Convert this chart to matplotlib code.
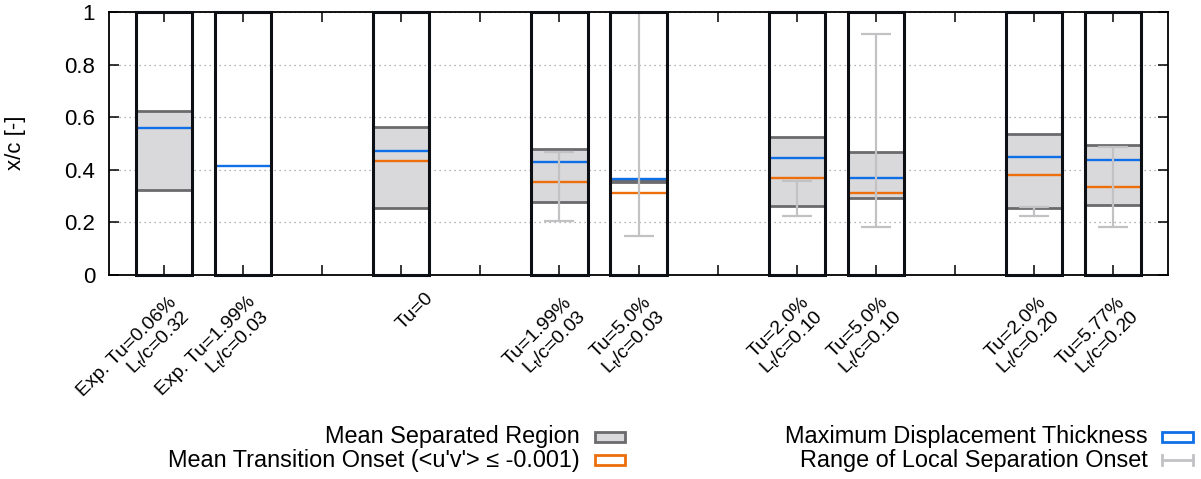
import numpy as np
import matplotlib
matplotlib.use('Agg')
import matplotlib.pyplot as plt
from matplotlib.patches import Rectangle

plt.rcParams['font.family'] = ['Liberation Sans', 'DejaVu Sans']
plt.rcParams['mathtext.fontset'] = 'custom'
plt.rcParams['mathtext.rm'] = 'Liberation Sans'
plt.rcParams['mathtext.default'] = 'regular'
plt.rcParams['font.size'] = 16

# cases, x slot of each case and its tick label
positions = [1, 2, 4, 6, 7, 9, 10, 12, 13]
labels = ['Exp. Tu=0.06%\nL$_t$/c=0.32', 'Exp. Tu=1.99%\nL$_t$/c=0.03', 'Tu=0',
          'Tu=1.99%\nL$_t$/c=0.03', 'Tu=5.0%\nL$_t$/c=0.03',
          'Tu=2.0%\nL$_t$/c=0.10', 'Tu=5.0%\nL$_t$/c=0.10',
          'Tu=2.0%\nL$_t$/c=0.20', 'Tu=5.77%\nL$_t$/c=0.20']
nan = np.nan
sep_start = [0.322, nan, 0.253, 0.279, 0.355, 0.264, 0.292, 0.255, 0.268]
sep_end = [0.625, nan, 0.561, 0.479, 0.362, 0.524, 0.467, 0.538, 0.495]
disp_max = [0.559, 0.415, 0.473, 0.428, 0.365, 0.444, 0.369, 0.448, 0.436]
trans_onset = [nan, nan, 0.434, 0.354, 0.311, 0.369, 0.311, 0.379, 0.336]
onset_min = [nan, nan, nan, 0.207, 0.150, 0.225, 0.184, 0.225, 0.184]
onset_max = [nan, nan, nan, 0.466, 1.000, 0.359, 0.915, 0.260, 0.486]

c_fill = '#d9d9db'
c_sep = '#6b6b6e'
c_blue = '#0f6fe6'
c_orange = '#ec6f0c'
c_err = '#c2c2c4'
c_box = '#0c1014'

W, H = 1201, 479
fig = plt.figure(figsize=(W/100, H/100), dpi=100)
ax = fig.add_axes([109/W, 1-275/H, (1168-109)/W, (275-12)/H])
bw = 0.71

for i, x in enumerate(positions):
    x0, x1 = x - bw/2, x + bw/2
    if not np.isnan(sep_start[i]):
        ax.fill_between([x0, x1], sep_start[i], sep_end[i], color=c_fill, lw=0, zorder=2)
        ax.hlines([sep_start[i], sep_end[i]], x0, x1, color=c_sep, lw=2.0, zorder=3)
    ax.hlines(disp_max[i], x0, x1, color=c_blue, lw=1.7, zorder=4)
    if not np.isnan(trans_onset[i]):
        ax.hlines(trans_onset[i], x0, x1, color=c_orange, lw=1.7, zorder=4)
    if not np.isnan(onset_min[i]):
        mid = (onset_min[i] + onset_max[i]) / 2
        ax.errorbar(x, mid, yerr=(onset_max[i] - onset_min[i]) / 2, fmt='none',
                    ecolor=c_err, elinewidth=1.6, capsize=10.5, capthick=1.6, zorder=4.5)
    ax.add_patch(Rectangle((x0, 0), bw, 1, fill=False, ec=c_box, lw=2.2, zorder=5, clip_on=False))

ax.set_xlim(0.3, 13.7)
ax.set_ylim(0, 1)
ax.set_xticks(range(1, 14))
ax.set_xticklabels([])
ax.set_yticks([0, 0.2, 0.4, 0.6, 0.8, 1])
ax.set_yticklabels(['0', '0.2', '0.4', '0.6', '0.8', '1'])
ax.tick_params(direction='in', top=True, right=True, length=7, width=1.1, pad=10)
ax.tick_params(axis='x', pad=4)
ax.yaxis.grid(True, linestyle=(0, (1, 3)), color='#9a9a9a', lw=0.9)
ax.set_axisbelow(True)
for sp in ax.spines.values():
    sp.set_linewidth(1.3)

for x, lab in zip(positions, labels):
    if '\n' in lab:
        off = (17, -32)
    else:
        off = (29, -20)
    ax.annotate(lab, xy=(x, 0), xycoords=('data', 'axes fraction'), xytext=off,
                textcoords='offset pixels', rotation=45, rotation_mode='anchor',
                ha='right', va='center', multialignment='right', linespacing=1.05,
                fontsize=14)

fig.text(15/W, 1-143/H, 'x/c [-]', rotation=90, ha='center', va='center', fontsize=16)

# key, drawn in pixel coordinates of the figure
lax = fig.add_axes([0, 0, 1, 1])
lax.set_xlim(0, W)
lax.set_ylim(H, 0)
lax.axis('off')
rows = [437, 460]
kfs = 16.9
lax.text(580, rows[0], 'Mean Separated Region', ha='right', va='center', fontsize=kfs)
lax.add_patch(Rectangle((595, rows[0]-5), 30, 10, fc=c_fill, ec=c_sep, lw=2))
lax.text(580, rows[1], "Mean Transition Onset (<u'v'> \u2264 -0.001)", ha='right', va='center', fontsize=kfs)
lax.add_patch(Rectangle((595, rows[1]-5), 30, 10, fc='white', ec=c_orange, lw=2))
lax.text(1148, rows[0], 'Maximum Displacement Thickness', ha='right', va='center', fontsize=kfs)
lax.add_patch(Rectangle((1162, rows[0]-5), 31, 10, fc='white', ec=c_blue, lw=2))
lax.text(1148, rows[1], 'Range of Local Separation Onset', ha='right', va='center', fontsize=kfs)
lax.plot([1162, 1193], [rows[1], rows[1]], color=c_err, lw=2)
lax.plot([1162, 1162], [rows[1]-5, rows[1]+5], color=c_err, lw=2)
lax.plot([1193, 1193], [rows[1]-5, rows[1]+5], color=c_err, lw=2)

fig.savefig('out.png', dpi=100)
